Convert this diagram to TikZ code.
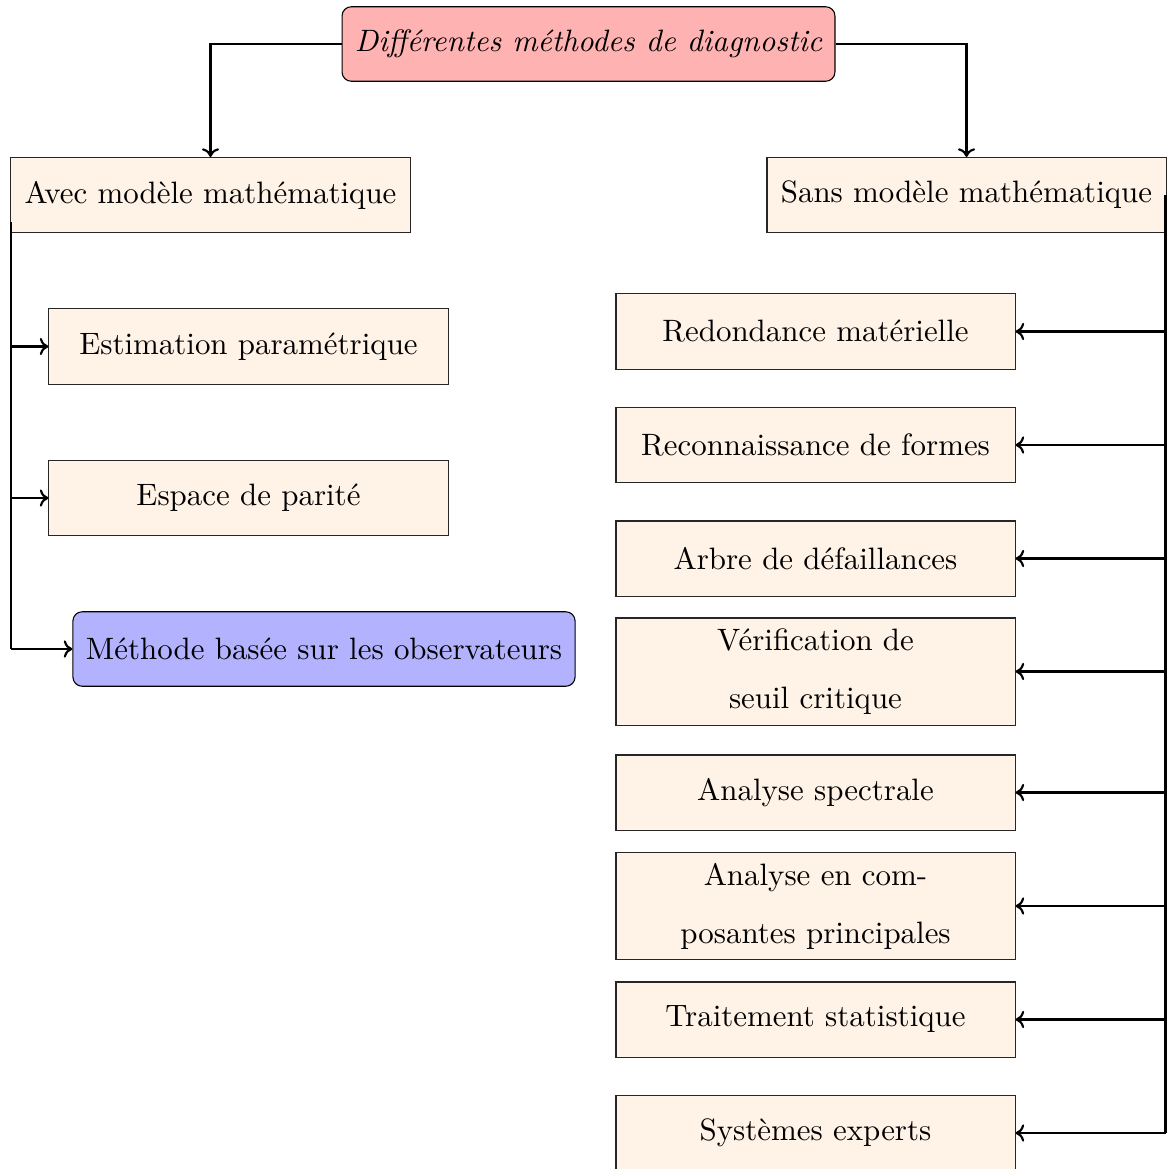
\documentclass[tikz,border=0pt]{standalone}
\usetikzlibrary{arrows.meta}
\definecolor{boxfill}{RGB}{255,242,230}
\definecolor{rootfill}{RGB}{255,178,178}
\definecolor{obsfill}{RGB}{178,178,255}
\begin{document}
\begin{tikzpicture}[x=0.325pt,y=-0.325pt,
  every node/.style={font=\fontsize{10.05}{18.9}\selectfont},
  leaf/.style={draw=black!85,fill=boxfill,line width=0.35pt,
    minimum width=129.7pt,minimum height=24.4pt,text width=123pt,
    align=center,inner sep=3.33pt},
  tall/.style={leaf,minimum height=34.8pt},
  rbox/.style={draw=black,fill=#1,line width=0.35pt,rounded corners=3pt,
    minimum height=24.2pt,align=center},
  link/.style={line width=0.7pt,-{To[length=2.8pt,width=5.6pt]}},
  trunk/.style={line width=0.7pt}]
\useasboundingbox (0,0) rectangle (1168,1169);
\clip (0,0) rectangle (1168,1169);

% root and the two families
\node[rbox=rootfill,minimum width=160.2pt] (root) at (588.5,44) {\itshape Différentes méthodes de diagnostic};
\node[leaf] (avec) at (210.5,195) {Avec modèle mathématique};
\node[leaf] (sans) at (966.5,195) {Sans modèle mathématique};

\draw[link] (root.west) -| (avec.north);
\draw[link] (root.east) -| (sans.north);

% model-based methods
\node[leaf] (estim) at (248.5,346.5) {Estimation paramétrique};
\node[leaf] (parite) at (248.5,498) {Espace de parité};
\node[rbox=obsfill,minimum width=163.2pt] (obs) at (324,649) {Méthode basée sur les observateurs};

\coordinate (ltop) at (11,222);
\coordinate (lbot) at (11,649);
\draw[trunk] (ltop) -- (lbot);
\draw[link] (11,346.5) -- (estim.west);
\draw[link] (11,498) -- (parite.west);
\draw[link] (lbot) -- (obs.west);

% model-free methods
\node[leaf] (redond) at (815.5,331.5) {Redondance matérielle};
\node[leaf] (reco) at (815.5,445) {Reconnaissance de formes};
\node[leaf] (arbre) at (815.5,558.5) {Arbre de défaillances};
\node[tall] (seuil) at (815.5,671.5) {Vérification de\\seuil critique};
\node[leaf] (spectre) at (815.5,792.5) {Analyse spectrale};
\node[tall] (acp) at (815.5,906) {Analyse en com-\\posantes principales};
\node[leaf] (stat) at (815.5,1019.5) {Traitement statistique};
\node[leaf] (expert) at (815.5,1133) {Systèmes experts};

\coordinate (rtop) at (1165.5,195);
\coordinate (rbot) at (1165.5,1133);
\draw[trunk] (rtop) -- (rbot);
\foreach \n in {redond,reco,arbre,seuil,spectre,acp,stat,expert}
  \draw[link] (1165.5,0 |- \n.east) -- (\n.east);
\end{tikzpicture}
\end{document}
